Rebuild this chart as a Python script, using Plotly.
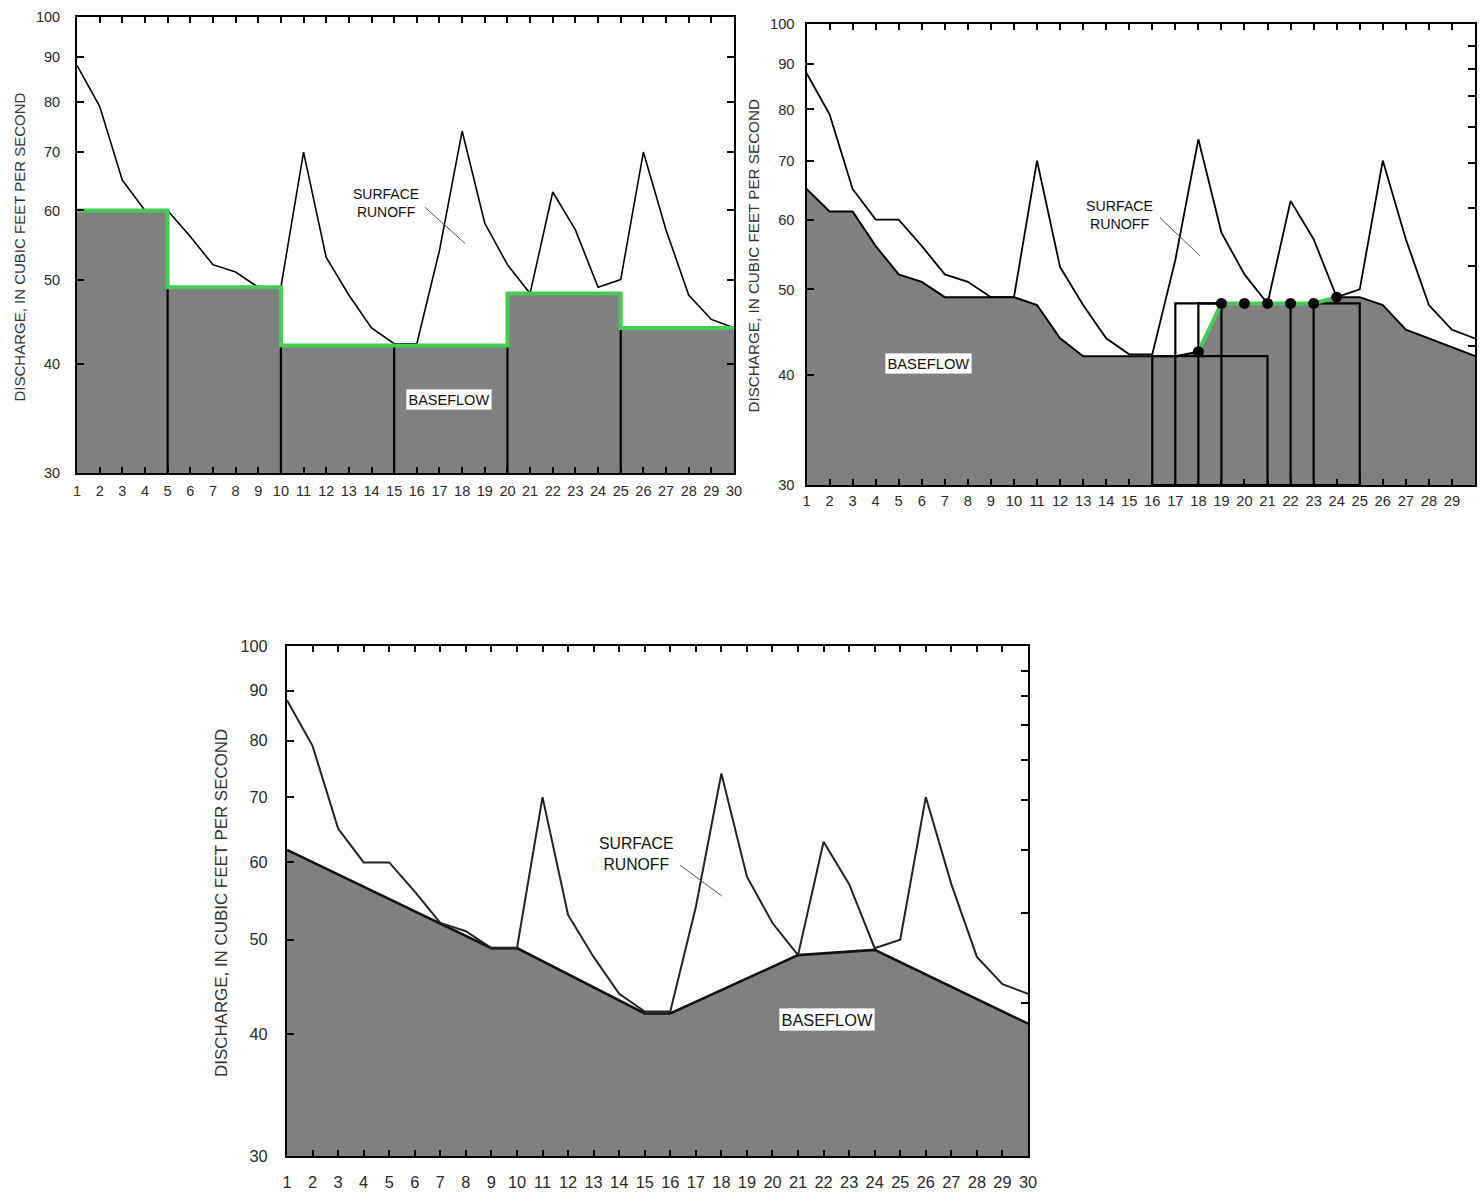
import math
import plotly.graph_objects as go

# ---------------- data ----------------
days = list(range(1, 31))
discharge = [88, 79, 65, 60, 60, 56, 52, 51, 49, 49, 70, 53, 48, 44, 42.2,
             42.2, 54, 74, 58, 52, 48.2, 63, 57, 49, 50, 70, 57, 48, 45, 44]

# fixed-interval method (top left)
fi_bounds = [1, 5, 10, 15, 20, 25, 30]
fi_base = [60, 49, 42, 42, 48.2, 44]

# sliding-interval method (top right)
si_base = [65, 61.3, 61.3, 56, 52, 51, 49, 49, 49, 49, 48, 44, 42, 42, 42,
           42, 42, 42.5, 48.2, 48.2, 48.2, 48.2, 48.2, 49, 49, 48, 45, 44, 43, 42]
win_left = [16, 17, 18, 19]
win_right = [21, 22, 23, 25]
win_min = [42, 48.2, 48.2, 48.2]
dot_days = [18, 19, 20, 21, 22, 23, 24]

# local-minimum method (bottom)
lm_days = [1, 7, 9, 10, 15, 16, 21, 24, 30]
lm_base = [61.8, 52, 49, 49, 42, 42, 48.2, 48.8, 41]

y_ticks = [30, 40, 50, 60, 70, 80, 90, 100]
right_ticks = [94.3, 88.9, 82.9, 76.4, 69.5, 61.8, 53.2, 43.1]
y_min, y_max = 30, 100

# ---------------- styling ----------------
W, H = 1483, 1192
GRAY = "#808080"
GREEN = "#45cc52"
FONT = "Liberation Sans, Arial, sans-serif"
TXT = "#2a2a2a"


def px_x(v):
    return v / W


def px_y(v):
    return 1 - v / H


panels = {
    "tl": dict(l=77, r=734, t=17, b=473, s=1.0, xa="x", ya="y", ys=12, xs=4),
    "tr": dict(l=806.5, r=1475, t=24, b=485, s=1.015, xa="x2", ya="y2", ys=7, xs=1),
    "bc": dict(l=287, r=1028, t=646, b=1156, s=1.128, xa="x3", ya="y3", ys=14, xs=10),
}

fig = go.Figure()


def add(tr, p):
    tr.update(xaxis=panels[p]["xa"], yaxis=panels[p]["ya"], showlegend=False,
              hoverinfo="skip")
    fig.add_trace(tr)


def baseline(p):
    add(go.Scatter(x=[days[0], days[-1]], y=[y_min, y_min], mode="lines",
                   line=dict(width=0, color=GRAY)), p)


# ---- top-left: fixed interval ----
baseline("tl")
add(go.Scatter(x=fi_bounds, y=fi_base + [fi_base[-1]], mode="lines",
               line=dict(width=0, shape="hv", color=GRAY),
               fill="tonexty", fillcolor=GRAY), "tl")
vx, vy = [], []
for i in range(1, len(fi_bounds) - 1):
    top = max(fi_base[i - 1], fi_base[i])
    vx += [fi_bounds[i], fi_bounds[i], None]
    vy += [y_min, top, None]
add(go.Scatter(x=vx, y=vy, mode="lines", line=dict(color="black", width=2.2)), "tl")
add(go.Scatter(x=days, y=discharge, mode="lines",
               line=dict(color="black", width=1.6)), "tl")
add(go.Scatter(x=fi_bounds, y=fi_base + [fi_base[-1]], mode="lines",
               line=dict(color=GREEN, width=4, shape="hv")), "tl")

# ---- top-right: sliding interval ----
baseline("tr")
add(go.Scatter(x=days, y=si_base, mode="lines",
               line=dict(width=2, color="black"),
               fill="tonexty", fillcolor=GRAY), "tr")
rx, ry = [], []
for l, r, m in zip(win_left, win_right, win_min):
    rx += [l, l, r, r, l, None]
    ry += [y_min, m, m, y_min, y_min, None]
add(go.Scatter(x=rx, y=ry, mode="lines", line=dict(color="black", width=2.2)), "tr")
add(go.Scatter(x=days, y=discharge, mode="lines",
               line=dict(color="black", width=1.8)), "tr")
dot_vals = [si_base[d - 1] for d in dot_days]
add(go.Scatter(x=dot_days, y=dot_vals, mode="lines",
               line=dict(color=GREEN, width=4)), "tr")
add(go.Scatter(x=dot_days, y=dot_vals, mode="markers",
               marker=dict(color="black", size=11, symbol="circle")), "tr")

# ---- bottom: local minimum ----
baseline("bc")
add(go.Scatter(x=lm_days, y=lm_base, mode="lines",
               line=dict(width=2.6, color="#111"),
               fill="tonexty", fillcolor=GRAY), "bc")
add(go.Scatter(x=days, y=discharge, mode="lines",
               line=dict(color="#222", width=2)), "bc")

# ---- labels ----
labels = {
    "tl": dict(sx=14.66, sy=61.2, lead=((16.36, 60.5), (18.13, 55.0)),
               bf=(17.42, 36.4)),
    "tr": dict(sx=14.56, sy=60.8, lead=((16.33, 60.3), (18.07, 54.6)),
               bf=(6.3, 41.2)),
    "bc": dict(sx=14.66, sy=61.2, lead=((16.38, 59.6), (18.03, 55.4)),
               bf=(22.13, 41.4)),
}

annotations = []
for p, lab in labels.items():
    s = panels[p]["s"]
    xa, ya = panels[p]["xa"], panels[p]["ya"]
    (x0, y0), (x1, y1) = lab["lead"]
    add(go.Scatter(x=[x0, x1], y=[y0, y1], mode="lines",
                   line=dict(color="#555", width=1)), p)
    annotations.append(dict(x=lab["sx"], y=math.log10(lab["sy"]), xref=xa, yref=ya,
                            text="SURFACE<br>RUNOFF", showarrow=False,
                            xanchor="center", yanchor="middle",
                            font=dict(family=FONT, size=14 * s, color="#111")))
    annotations.append(dict(x=lab["bf"][0], y=math.log10(lab["bf"][1]), xref=xa,
                            yref=ya, text="BASEFLOW", showarrow=False,
                            bgcolor="white", borderpad=2, bordercolor="#bbb",
                            borderwidth=0.5,
                            font=dict(family=FONT, size=14.5 * s, color="#111")))
    # y-axis titles
    cx = {"tl": 18.5, "tr": 753, "bc": 221}[p]
    pp = panels[p]
    annotations.append(dict(x=px_x(cx), y=px_y((pp["t"] + pp["b"]) / 2 + 2),
                            xref="paper", yref="paper", textangle=-90,
                            text="DISCHARGE, IN CUBIC FEET PER SECOND",
                            showarrow=False, xanchor="center", yanchor="middle",
                            font=dict(family=FONT, size=15 * s, color="#333")))

layout = dict(width=W, height=H, margin=dict(l=0, r=0, t=0, b=0, autoexpand=False),
              paper_bgcolor="white", plot_bgcolor="white",
              annotations=annotations)

for i, (p, pp) in enumerate(panels.items()):
    n = "" if i == 0 else str(i + 1)
    s = pp["s"]
    layout["xaxis" + n] = dict(
        domain=[px_x(pp["l"]), px_x(pp["r"])], anchor=pp["ya"], range=[1, 30],
        tickvals=days, ticktext=[str(d) for d in days], ticks="inside",
        ticklen=6, tickwidth=2, tickcolor="black", showline=True,
        linecolor="black", linewidth=2, mirror="ticks", showgrid=False,
        zeroline=False, automargin=False, ticklabelstandoff=pp["xs"],
        tickfont=dict(family=FONT, size=14.5 * s, color=TXT))
    layout["yaxis" + n] = dict(
        domain=[px_y(pp["b"]), px_y(pp["t"])], anchor=pp["xa"], type="log",
        range=[math.log10(y_min), math.log10(y_max)], tickvals=y_ticks,
        ticktext=[str(v) for v in y_ticks], ticks="inside", ticklen=7,
        tickwidth=2, tickcolor="black", showline=True, linecolor="black",
        linewidth=2, mirror=("ticks" if p == "tl" else True), showgrid=False,
        zeroline=False, automargin=False, ticklabelstandoff=pp["ys"],
        tickfont=dict(family=FONT, size=14.5 * s, color=TXT))

# right-hand ticks for top-right and bottom panels
for n, (xa, ya) in [("4", ("x2", "y2")), ("5", ("x3", "y3"))]:
    layout["yaxis" + n] = dict(
        overlaying=ya, side="right", anchor=xa, type="log",
        range=[math.log10(y_min), math.log10(y_max)], tickvals=right_ticks,
        ticks="inside", ticklen=7, tickwidth=2, tickcolor="black",
        showticklabels=False, showline=False, showgrid=False, zeroline=False,
        automargin=False)
    fig.add_trace(go.Scatter(x=[days[0]], y=[y_max], xaxis=xa, yaxis="y" + n,
                             mode="markers", marker=dict(opacity=0),
                             showlegend=False, hoverinfo="skip"))

fig.update_layout(**layout)
fig.write_html(
    "out.html",
    config={"displayModeBar": False},
    post_script="document.body.style.margin='0';document.body.style.overflow='hidden';",
)
